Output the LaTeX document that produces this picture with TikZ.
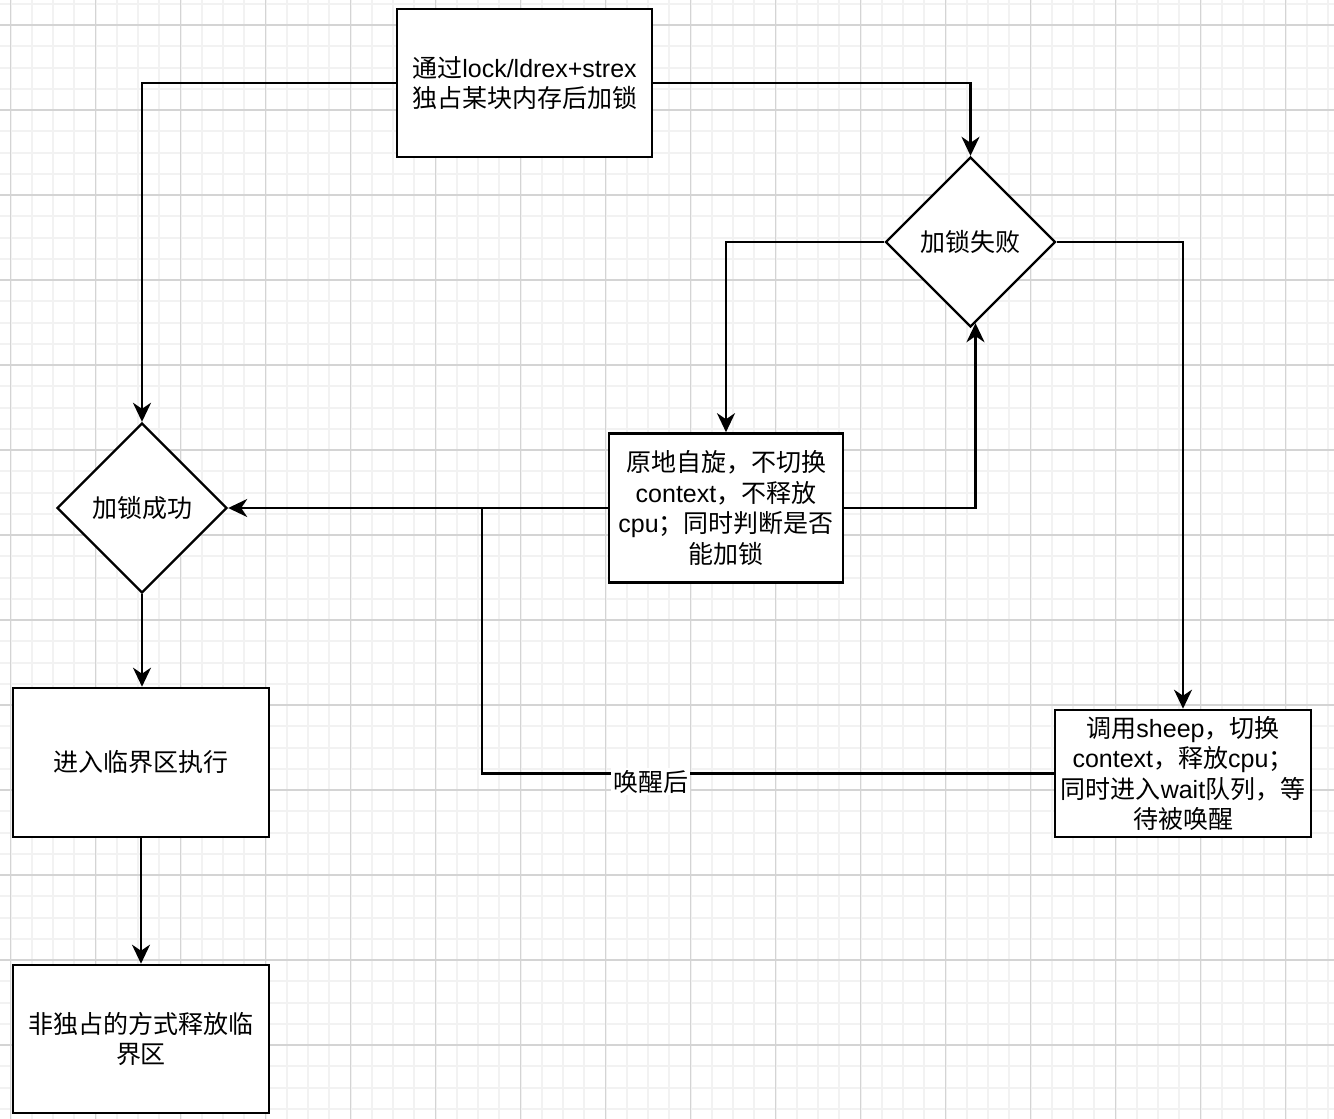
\documentclass[tikz,border=0pt]{standalone}
\usepackage{fontspec}
\setmainfont{Liberation Sans}
\newfontfamily\cjk{Noto Sans CJK SC}
\newcommand\zh[1]{{\cjk #1}}
\newcommand\bigfs{\fontsize{25}{30.5}\selectfont}
\usetikzlibrary{shapes.geometric,arrows.meta}
\definecolor{minorc}{HTML}{F2F2F2}
\definecolor{majorc}{HTML}{D4D4D4}
\begin{document}
\begin{tikzpicture}[x=1pt,y=-1pt,
  box/.style={draw=black, line width=2.6pt, fill=white, rectangle, inner sep=0pt, align=center, font=\bigfs},
  dia/.style={draw=black, line width=2.4pt, fill=white, diamond, inner sep=0pt, align=center, font=\bigfs, minimum width=170pt, minimum height=170pt, aspect=1},
  arr/.style={line width=2.4pt, -{Stealth[length=19pt,width=18pt,inset=6pt]}},
  conn/.style={line width=2.4pt},
  lbl/.style={fill=white, inner sep=2pt, font=\bigfs},
  minorline/.style={draw=minorc, line width=2pt},
  majorline/.style={draw=majorc, line width=1.2pt}]
\useasboundingbox (0,0) rectangle (1334,1119);
\fill[white] (0,0) rectangle (1334,1119);
% grid
\foreach \i in {0,...,62} {\draw[minorline] ({10.5+21.25*\i},0) -- ({10.5+21.25*\i},1119);}
\foreach \i in {-1,...,51} {\draw[minorline] (0,{25+21.25*\i}) -- (1334,{25+21.25*\i});}
\foreach \i in {0,...,15} {\draw[majorline] ({10.5+85*\i},0) -- ({10.5+85*\i},1119);}
\foreach \i in {0,...,12} {\draw[majorline] (0,{25+85*\i}) -- (1334,{25+85*\i});}
% nodes
\node[box, minimum width=255pt, minimum height=148pt] (top) at (524.5,83) {\zh{通过}lock/ldrex+strex\\\zh{独占某块内存后加锁}};
\node[dia] (f) at (970.5,242) {\zh{加锁失败}};
\node[dia] (s) at (142,508) {\zh{加锁成功}};
\node[box, minimum width=234pt, minimum height=149pt] (spin) at (726,508) {\zh{原地自旋，不切换}\\context\zh{，不释放}\\cpu\zh{；同时判断是否}\\\zh{能加锁}};
\node[box, minimum width=256pt, minimum height=149pt] (enter) at (141,762.5) {\zh{进入临界区执行}};
\node[box, minimum width=256pt, minimum height=148pt] (rel) at (141,1039) {\zh{非独占的方式释放临}\\\zh{界区}};
\node[box, minimum width=256pt, minimum height=127pt] (sleep) at (1183,773.5) {\zh{调用}sheep\zh{，切换}\\context\zh{，释放}cpu\zh{；}\\\zh{同时进入}wait\zh{队列，等}\\\zh{待被唤醒}};
\coordinate (j) at (482,508);
\coordinate (jb) at (482,773.5);
% connectors
\draw[arr] (top.west) -| (s.north);
\draw[arr] (top.east) -| (f.north);
\draw[arr] (f.west) -| (spin.north);
\draw[arr] (f.east) -| (sleep.north);
\draw[arr] (spin.east) -| ([xshift=5pt,yshift=5pt]f.south);
\draw[arr] (spin.west) -- (s.east);
\draw[conn] (sleep.west) -- node[lbl, pos=0.705, yshift=-8pt] {\zh{唤醒后}} (jb) -- (j);
\draw[arr] (s.south) -- (s.south |- enter.north);
\draw[arr] (enter.south) -- (rel.north);
\end{tikzpicture}
\end{document}
